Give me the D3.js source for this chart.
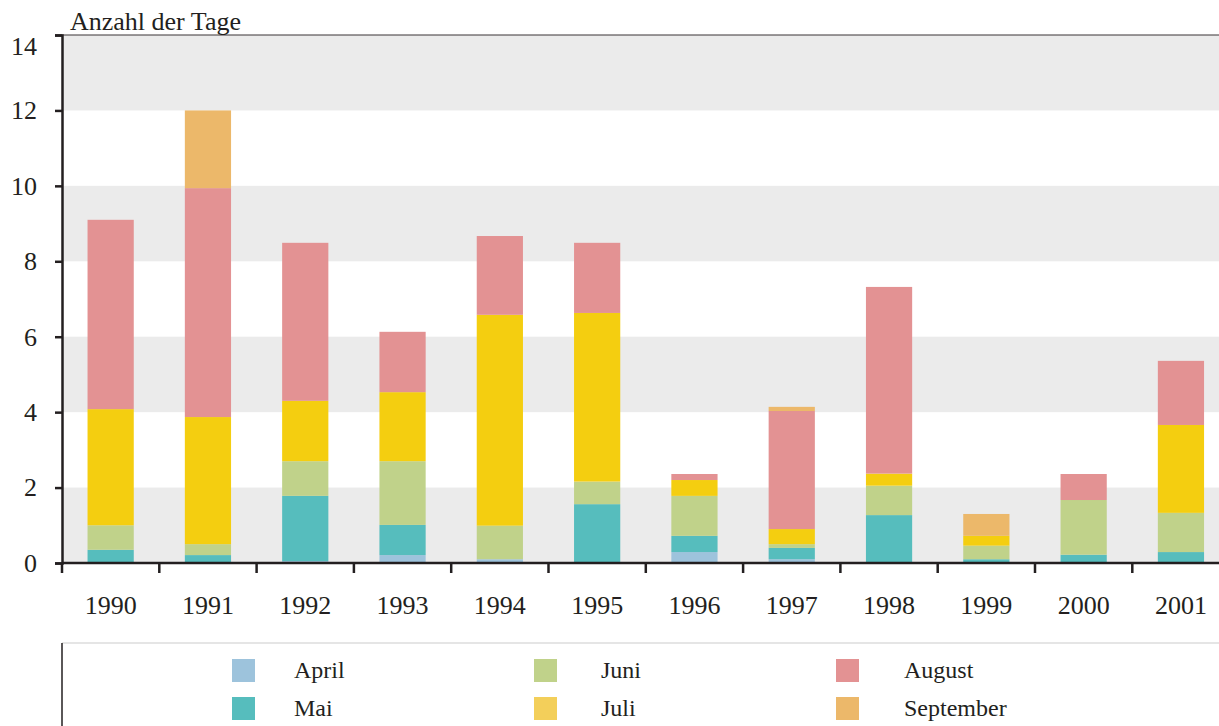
<!DOCTYPE html>
<html lang="de">
<head>
    <meta charset="UTF-8">
    <title>Anzahl der Tage</title>
    <script src="https://d3js.org/d3.v7.min.js"></script>
    <style>
        body {
            margin: 0;
            padding: 0;
            background: #ffffff;
        }
        svg text {
            font-family: "Liberation Serif", "Times New Roman", serif;
            fill: #231f20;
        }
    </style>
</head>
<body>
    <div id="chart"></div>
    <script>
        // data
        const years = ["1990", "1991", "1992", "1993", "1994", "1995", "1996", "1997", "1998", "1999", "2000", "2001"];
        const months = ["April", "Mai", "Juni", "Juli", "August", "September"];
        const april     = [0,    0,    0.05, 0.21, 0.10, 0,    0.29, 0.10, 0,    0,    0,    0];
        const mai       = [0.35, 0.21, 1.73, 0.80, 0,    1.56, 0.43, 0.30, 1.27, 0.10, 0.22, 0.29];
        const juni      = [0.65, 0.29, 0.92, 1.69, 0.89, 0.60, 1.06, 0.10, 0.78, 0.36, 1.45, 1.04];
        const juli      = [3.08, 3.37, 1.60, 1.83, 5.59, 4.47, 0.42, 0.40, 0.32, 0.26, 0,    2.33];
        const august    = [5.02, 6.07, 4.19, 1.60, 2.09, 1.86, 0.16, 3.13, 4.95, 0,    0.69, 1.70];
        const september = [0,    2.06, 0,    0,    0,    0,    0,    0.11, 0,    0.58, 0,    0];
        const yTicks = [0, 2, 4, 6, 8, 10, 12, 14];
        const colors = ["#9dc3dc", "#56bdbd", "#c0d28a", "#f4ce10", "#e39293", "#ecb86a"];
        const legendColors = ["#9dc3dc", "#56bdbd", "#c0d28a", "#f3cf5a", "#e39293", "#ecb86a"];

        const series = [april, mai, juni, juli, august, september];
        const table = years.map((yr, i) => {
            const row = { year: yr };
            months.forEach((m, k) => { row[m] = series[k][i]; });
            return row;
        });

        const W = 1219, H = 726;
        const plotLeft = 62, plotTop = 35, plotBottom = 563;
        const step = 97.3;
        const serif = "'Liberation Serif', 'Times New Roman', serif";

        const svg = d3.select("#chart").append("svg")
            .attr("width", W)
            .attr("height", H);

        const x = d3.scaleBand()
            .domain(years)
            .range([plotLeft, plotLeft + step * years.length])
            .padding(0);
        const y = d3.scaleLinear()
            .domain([0, 14])
            .range([plotBottom, plotTop]);
        const color = d3.scaleOrdinal().domain(months).range(colors);
        const legendColor = d3.scaleOrdinal().domain(months).range(legendColors);

        // grey bands behind the bars
        const bands = [[0, 2], [4, 6], [8, 10], [12, 14]];
        svg.append("g").selectAll("rect")
            .data(bands)
            .enter().append("rect")
            .attr("x", plotLeft)
            .attr("y", d => y(d[1]))
            .attr("width", W - plotLeft)
            .attr("height", d => y(d[0]) - y(d[1]))
            .attr("fill", "#ebebeb");

        // top border
        svg.append("line")
            .attr("x1", plotLeft).attr("x2", W)
            .attr("y1", y(14)).attr("y2", y(14))
            .attr("stroke", "#3a3536").attr("stroke-width", 1.2);

        // stacked bars
        const stacked = d3.stack().keys(months)(table);
        const barW = x.bandwidth() * 0.475;
        svg.append("g").selectAll("g")
            .data(stacked)
            .enter().append("g")
            .attr("fill", d => color(d.key))
            .selectAll("rect")
            .data(d => d.filter(p => p[1] - p[0] > 0))
            .enter().append("rect")
            .attr("x", d => x(d.data.year) + (x.bandwidth() - barW) / 2)
            .attr("y", d => y(d[1]))
            .attr("width", barW)
            .attr("height", d => y(d[0]) - y(d[1]));

        // y axis
        const yAxis = svg.append("g")
            .attr("transform", `translate(${plotLeft},0)`)
            .call(d3.axisLeft(y).tickValues(yTicks).tickSize(7).tickPadding(18));
        yAxis.attr("font-family", serif).attr("font-size", 26);
        yAxis.select(".domain").attr("stroke", "#231f20").attr("stroke-width", 2.5);
        yAxis.selectAll(".tick line").attr("stroke", "#231f20").attr("stroke-width", 2.5);
        yAxis.selectAll("text")
            .attr("fill", "#231f20")
            .attr("dy", d => d === 14 ? "0.75em" : "0.32em");

        // x axis: labels at centres, ticks at band boundaries
        const xAxis = svg.append("g")
            .attr("transform", `translate(0,${plotBottom})`)
            .call(d3.axisBottom(x).tickSize(0).tickPadding(33));
        xAxis.attr("font-family", serif).attr("font-size", 26);
        xAxis.select(".domain").remove();
        xAxis.selectAll("text").attr("fill", "#231f20");
        svg.append("line")
            .attr("x1", plotLeft).attr("x2", W)
            .attr("y1", plotBottom).attr("y2", plotBottom)
            .attr("stroke", "#231f20").attr("stroke-width", 2.5);
        svg.append("g").selectAll("line")
            .data(years)
            .enter().append("line")
            .attr("x1", d => x(d)).attr("x2", d => x(d))
            .attr("y1", plotBottom).attr("y2", plotBottom + 10)
            .attr("stroke", "#231f20").attr("stroke-width", 2.5);

        // axis title
        svg.append("text")
            .attr("x", 70)
            .attr("y", 30)
            .style("font-size", "26px")
            .text("Anzahl der Tage");

        // legend box
        svg.append("line")
            .attr("x1", plotLeft).attr("x2", W)
            .attr("y1", 643).attr("y2", 643)
            .attr("stroke", "#dddddd").attr("stroke-width", 1.5);
        svg.append("line")
            .attr("x1", plotLeft).attr("x2", plotLeft)
            .attr("y1", 643).attr("y2", H)
            .attr("stroke", "#231f20").attr("stroke-width", 1.5);

        const legendX = [232, 534, 836];
        const labelX = [62, 67, 68];
        const legendY = [659, 697];
        const legend = svg.append("g").selectAll("g")
            .data(months)
            .enter().append("g")
            .attr("transform", (d, i) => `translate(${legendX[Math.floor(i / 2)]},${legendY[i % 2]})`);
        legend.append("rect")
            .attr("width", 23)
            .attr("height", 23)
            .attr("fill", d => legendColor(d));
        legend.append("text")
            .attr("x", (d, i) => labelX[Math.floor(i / 2)])
            .attr("y", 19)
            .style("font-size", "24px")
            .text(d => d);
    </script>
</body>
</html>
